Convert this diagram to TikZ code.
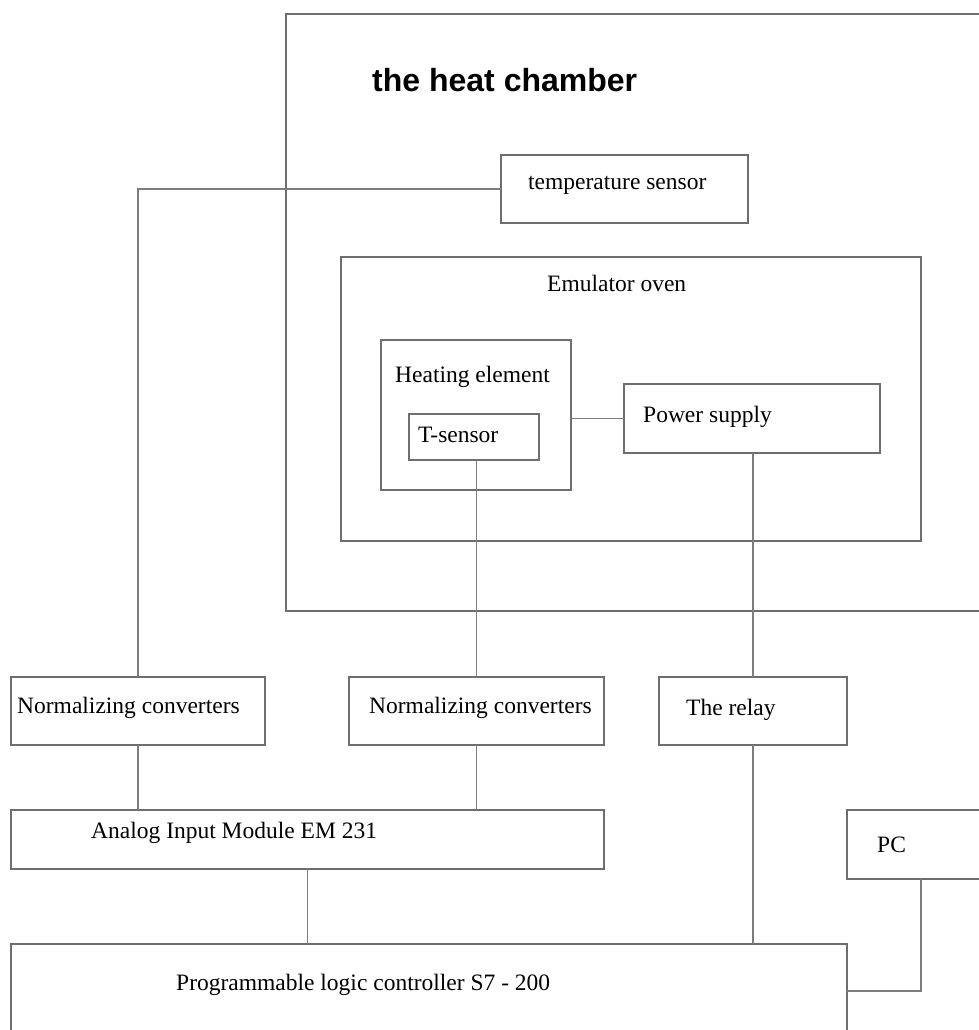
\documentclass[tikz,border=0pt]{standalone}
\usepackage{fontspec}
\setmainfont{Liberation Serif}
\newfontfamily\hcsans{Liberation Sans}
\usetikzlibrary{positioning}
\definecolor{BoxCol}{RGB}{110,110,110}
\definecolor{WireCol}{RGB}{125,125,125}
\tikzset{
  hcbox/.style={draw=BoxCol, line width=1.4pt, inner sep=0pt, outer sep=0pt},
  hcwire/.style={line width=1.2pt, draw=WireCol},
  hclab/.style={font=\fontsize{23.5}{25}\selectfont, inner sep=0pt, anchor=base west},
  hctitle/.style={font=\hcsans\bfseries\fontsize{32}{34}\selectfont, inner sep=0pt, anchor=base west}
}
\newcommand{\HCBox}[5]{%
  \node[hcbox, minimum width={#4-#2}, minimum height={#5-#3}] (#1) at ({(#2+#4)/2},{(#3+#5)/2}) {};%
}

\begin{document}
\begin{tikzpicture}[x=1pt,y=-1pt]
  \useasboundingbox (0,0) rectangle (979,1030);
  \clip (0,0) rectangle (979,1030);
  % the heat chamber
  \HCBox{chamber}{286}{14}{1000}{611}
  \node[hctitle] (chambertitle) at (372,92) {the heat chamber};
  \HCBox{tsens}{501}{155}{748}{223}
  \node[hclab] (tsenslab) at (528,189) {temperature sensor};
  \HCBox{oven}{341}{257}{921}{541}
  \node[hclab] (ovenlab) at (547,291) {Emulator oven};
  \HCBox{heat}{381}{340}{571}{490}
  \node[hclab] (heatlab) at (395,382) {Heating element};
  \HCBox{tsensor}{409}{414}{539}{460}
  \node[hclab] (tsensorlab) at (418,442) {T-sensor};
  \HCBox{pwr}{624}{384}{880}{453}
  \node[hclab] (pwrlab) at (643,422) {Power supply};
  % converters, relay, modules
  \HCBox{nc1}{11}{677}{265}{745}
  \node[hclab] (nc1lab) at (17,713) {Normalizing converters};
  \HCBox{nc2}{349}{677}{604}{745}
  \node[hclab] (nc2lab) at (369,713) {Normalizing converters};
  \HCBox{relay}{659}{677}{847}{745}
  \node[hclab] (relaylab) at (686,715) {The relay};
  \HCBox{aim}{11}{810}{604}{869}
  \node[hclab] (aimlab) at (91,838) {Analog Input Module EM 231};
  \HCBox{pc}{847}{810}{995}{879}
  \node[hclab] (pclab) at (877,852) {PC};
  \HCBox{plc}{11}{944}{847}{1038}
  \node[hclab] (plclab) at (176,990) {Programmable logic controller S7 - 200};
  % wires
  \draw[hcwire] (tsens.west) -| (nc1.north);
  \draw[hcwire] (pwr.west) -- (pwr.west -| heat.east);
  \draw[hcwire] (nc2.north) -- (nc2.north |- tsensor.south);
  \draw[hcwire] (relay.north) -- (relay.north |- pwr.south);
  \draw[hcwire] (nc1.south) -- (nc1.south |- aim.north);
  \draw[hcwire] (nc2.south) -- (nc2.south |- aim.north);
  \draw[hcwire] (aim.south) -- (aim.south |- plc.north);
  \draw[hcwire] (relay.south) -- (relay.south |- plc.north);
  \draw[hcwire] (pc.south) |- (plc.east);
\end{tikzpicture}
\end{document}
